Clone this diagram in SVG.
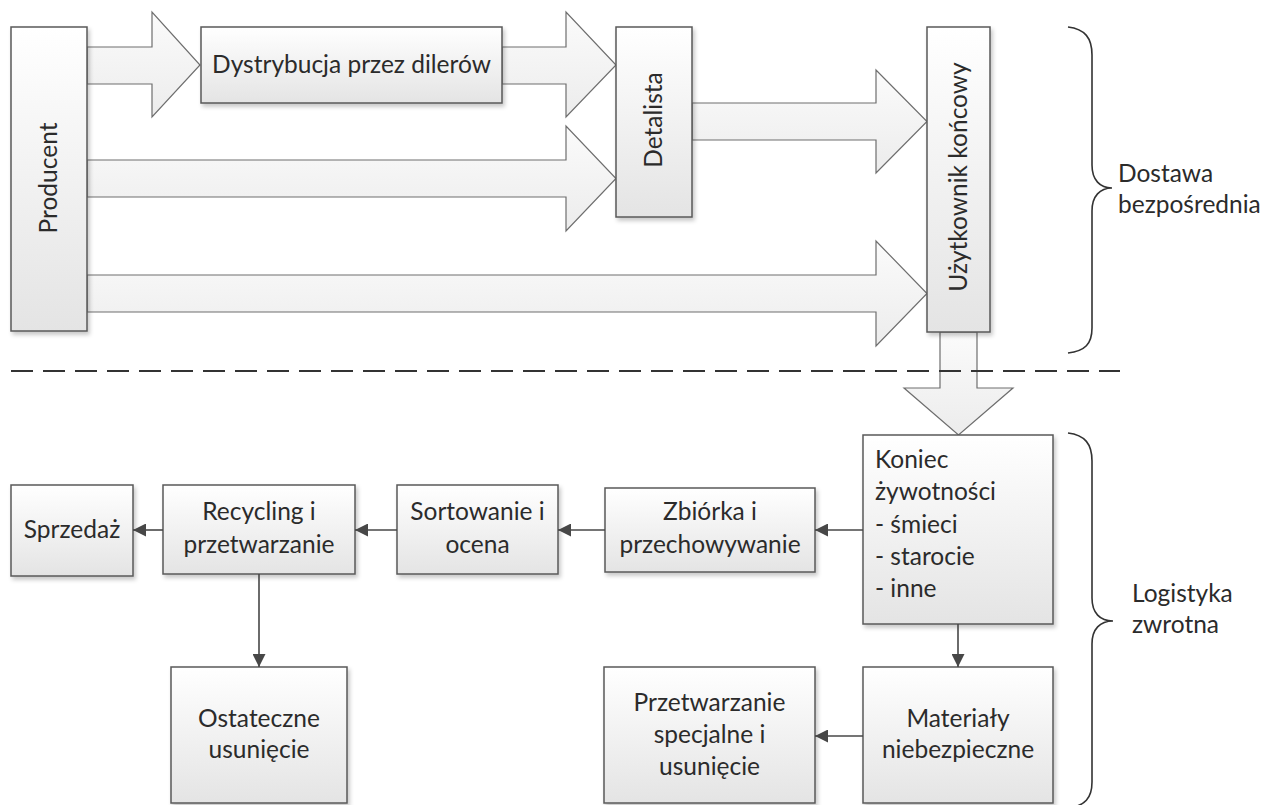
<svg xmlns="http://www.w3.org/2000/svg" width="1280" height="805" viewBox="0 0 1280 805">
  <style>
    .box { fill: url(#boxFill); stroke: #595959; stroke-width: 1.5; filter: url(#shadow); }
    .block { fill: url(#arrowFill); stroke: #6e6e6e; stroke-width: 1.2; stroke-linejoin: miter; }
    .lbl { font-family: "Lato", "Open Sans", sans-serif; font-size: 24.5px; fill: #2b2b2b; text-anchor: middle; }
    .left { text-anchor: start; }
    .conn { stroke: #474747; stroke-width: 1.6; fill: none; marker-end: url(#tri); }
    .brace { fill: none; stroke: #333; stroke-width: 1.6; }
    .divider { stroke: #333; stroke-width: 2; stroke-dasharray: 22 10; }
  </style>
  <defs>
    <linearGradient id="boxFill" x1="0" y1="0" x2="0" y2="1">
      <stop offset="0" stop-color="#ffffff"/>
      <stop offset="1" stop-color="#e4e4e4"/>
    </linearGradient>
    <linearGradient id="arrowFill" x1="0" y1="0" x2="0" y2="1">
      <stop offset="0" stop-color="#fbfbfb"/>
      <stop offset="1" stop-color="#ececec"/>
    </linearGradient>
    <filter id="shadow" x="-10%" y="-10%" width="130%" height="130%">
      <feDropShadow dx="2" dy="3" stdDeviation="2" flood-color="#000" flood-opacity="0.22"/>
    </filter>
    <marker id="tri" viewBox="0 0 12 12" refX="12" refY="6" markerWidth="13" markerHeight="13" markerUnits="userSpaceOnUse" orient="auto">
      <path d="M0,0 L12,6 L0,12 Z" fill="#474747"/>
    </marker>
  </defs>

  <!-- wide block arrows of the forward supply chain -->
  <g id="block-arrows">
    <polygon class="block" points="87,47 152,47 152,12 200,65 152,117 152,84 87,84"/>
    <polygon class="block" points="502,47 566,47 566,12 616,65 566,117 566,84 502,84"/>
    <polygon class="block" points="87,160 566,160 566,126 616,178.5 566,231 566,197 87,197"/>
    <polygon class="block" points="692,103 876,103 876,70 927,121.5 876,173 876,140 692,140"/>
    <polygon class="block" points="87,275 876,275 876,241 927,293.5 876,346 876,312 87,312"/>
    <polygon class="block" points="940,332 977,332 977,388 1013,388 958.5,435 904,388 940,388"/>
  </g>

  <!-- divider between forward and reverse flows -->
  <line class="divider" x1="11" y1="371" x2="1120" y2="371"/>

  <g id="producent">
    <rect class="box" x="11" y="27" width="76" height="304"/>
    <text class="lbl" transform="translate(49,178) rotate(-90)" y="8">Producent</text>
  </g>
  <g id="dystrybucja">
    <rect class="box" x="201" y="27" width="301" height="76"/>
    <text class="lbl" x="351.5" y="73">Dystrybucja przez dilerów</text>
  </g>
  <g id="detalista">
    <rect class="box" x="616" y="27" width="76" height="190"/>
    <text class="lbl" transform="translate(654,120) rotate(-90)" y="8">Detalista</text>
  </g>
  <g id="uzytkownik">
    <rect class="box" x="927" y="27" width="63" height="305"/>
    <text class="lbl" transform="translate(958.5,177) rotate(-90)" y="8">Użytkownik końcowy</text>
  </g>

  <g id="koniec">
    <rect class="box" x="863" y="435" width="190" height="189"/>
    <text class="lbl left" x="875" y="468">Koniec</text>
    <text class="lbl left" x="875" y="500">żywotności</text>
    <text class="lbl left" x="875" y="533">- śmieci</text>
    <text class="lbl left" x="875" y="565">- starocie</text>
    <text class="lbl left" x="875" y="597">- inne</text>
  </g>
  <g id="zbiorka">
    <rect class="box" x="605" y="488" width="210" height="84"/>
    <text class="lbl" x="710" y="520">Zbiórka i</text>
    <text class="lbl" x="710" y="553">przechowywanie</text>
  </g>
  <g id="sortowanie">
    <rect class="box" x="397" y="485" width="161" height="89"/>
    <text class="lbl" x="477.5" y="520">Sortowanie i</text>
    <text class="lbl" x="477.5" y="553">ocena</text>
  </g>
  <g id="recycling">
    <rect class="box" x="163" y="485" width="192" height="89"/>
    <text class="lbl" x="259" y="520">Recycling i</text>
    <text class="lbl" x="259" y="553">przetwarzanie</text>
  </g>
  <g id="sprzedaz">
    <rect class="box" x="11" y="485" width="122" height="91"/>
    <text class="lbl" x="72" y="538">Sprzedaż</text>
  </g>
  <g id="ostateczne">
    <rect class="box" x="171" y="667" width="176" height="136"/>
    <text class="lbl" x="259" y="727">Ostateczne</text>
    <text class="lbl" x="259" y="758">usunięcie</text>
  </g>
  <g id="przetwarzanie-specjalne">
    <rect class="box" x="604" y="667" width="211" height="136"/>
    <text class="lbl" x="709.5" y="711">Przetwarzanie</text>
    <text class="lbl" x="709.5" y="743">specjalne i</text>
    <text class="lbl" x="709.5" y="775">usunięcie</text>
  </g>
  <g id="materialy">
    <rect class="box" x="863" y="667" width="190" height="136"/>
    <text class="lbl" x="958" y="727">Materiały</text>
    <text class="lbl" x="958" y="758">niebezpieczne</text>
  </g>

  <!-- reverse logistics connectors -->
  <g id="connectors">
    <line class="conn" x1="863" y1="530" x2="815" y2="530"/>
    <line class="conn" x1="605" y1="530" x2="558" y2="530"/>
    <line class="conn" x1="397" y1="530" x2="355" y2="530"/>
    <line class="conn" x1="163" y1="530" x2="133" y2="530"/>
    <line class="conn" x1="259" y1="574" x2="259" y2="667"/>
    <line class="conn" x1="958" y1="624" x2="958" y2="667"/>
    <line class="conn" x1="863" y1="736" x2="815" y2="736"/>
  </g>

  <!-- section braces and their captions -->
  <g id="brace-dostawa">
    <path class="brace" d="M1068,27 C1085,29 1092,38 1092,55 L1092,165 C1092,180 1100,188 1112,188 C1100,188 1092,196 1092,211 L1092,328 C1092,344 1085,351 1068,353"/>
    <text class="lbl left" x="1118" y="182">Dostawa</text>
    <text class="lbl left" x="1118" y="213">bezpośrednia</text>
  </g>
  <g id="brace-logistyka">
    <path class="brace" d="M1068,433 C1085,435 1092,444 1092,461 L1092,598 C1092,613 1100,621 1113,621 C1100,621 1092,629 1092,644 L1092,782 C1092,798 1085,806 1068,808"/>
    <text class="lbl left" x="1132" y="602">Logistyka</text>
    <text class="lbl left" x="1132" y="633">zwrotna</text>
  </g>
</svg>
